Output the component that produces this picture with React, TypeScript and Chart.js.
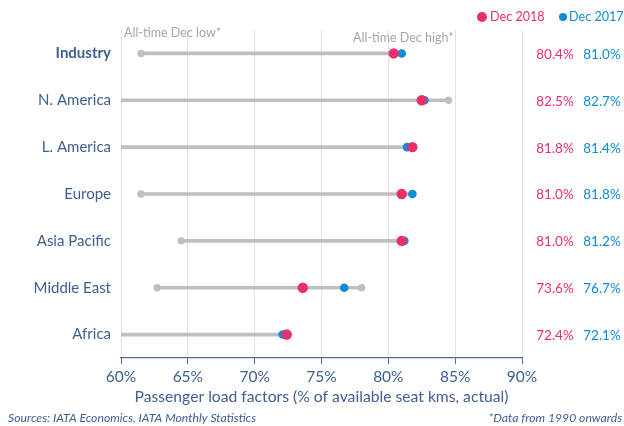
import React, { useEffect, useRef } from "react";
import { Chart, registerables } from "chart.js";

Chart.register(...registerables);

const regions = ["Industry", "N. America", "L. America", "Europe", "Asia Pacific", "Middle East", "Africa"];
const dec2018 = [80.4, 82.5, 81.8, 81.0, 81.0, 73.6, 72.4];
const dec2017 = [81.0, 82.7, 81.4, 81.8, 81.2, 76.7, 72.1];
const allTimeLow: (number | null)[] = [61.5, null, null, 61.5, 64.5, 62.7, null];
const allTimeHigh = [81.0, 84.5, 81.8, 81.8, 81.2, 78.0, 72.4];
const xTicks = [60, 65, 70, 75, 80, 85, 90];

const AXIS_MIN = 60;
const AXIS_MAX = 90;

const TEXT_BLUE = "#3f5e91";
const PINK = "#ea2e6e";
const BLUE = "#0f8cd5";
const GREY = "#bfbfbf";
const FONT = "Lato, 'Open Sans', sans-serif";

const overlayPlugin = {
  id: "overlay",
  afterDraw(chart: any) {
    const ctx = chart.ctx;
    const y = chart.scales.y;
    ctx.save();
    // value labels at right
    ctx.textBaseline = "middle";
    ctx.textAlign = "center";
    ctx.font = `13.5px ${FONT}`;
    regions.forEach((r, i) => {
      const py = y.getPixelForValue(i) + 1;
      ctx.fillStyle = PINK;
      ctx.fillText(dec2018[i].toFixed(1) + "%", 555, py);
      ctx.fillStyle = BLUE;
      ctx.fillText(dec2017[i].toFixed(1) + "%", 602, py);
    });
    // legend
    ctx.font = `12.6px ${FONT}`;
    ctx.textAlign = "left";
    ctx.fillStyle = PINK;
    ctx.beginPath();
    ctx.arc(482, 17, 5, 0, Math.PI * 2);
    ctx.fill();
    ctx.fillText("Dec 2018", 490, 17);
    ctx.fillStyle = BLUE;
    ctx.beginPath();
    ctx.arc(563, 17, 4, 0, Math.PI * 2);
    ctx.fill();
    ctx.fillText("Dec 2017", 569, 17);
    // annotations
    ctx.fillStyle = "#a6a6a6";
    ctx.font = `12.5px ${FONT}`;
    ctx.fillText("All-time Dec low*", 124, 33);
    ctx.fillText("All-time Dec high*", 353, 38);
    // footnotes
    ctx.fillStyle = TEXT_BLUE;
    ctx.font = `italic 12.2px ${FONT}`;
    ctx.fillText("Sources: IATA Economics, IATA Monthly Statistics", 8, 418);
    ctx.textAlign = "right";
    ctx.fillText("*Data from 1990 onwards", 622, 418);
    ctx.restore();
  },
};

export default function App() {
  const ref = useRef<HTMLCanvasElement | null>(null);
  useEffect(() => {
    if (!ref.current) return;
    const chart = new Chart(ref.current, {
      type: "bar",
      data: {
        labels: regions,
        datasets: [
          {
            type: "scatter",
            data: regions.map((r, i) => ({ x: dec2018[i], y: r })),
            backgroundColor: PINK,
            borderWidth: 0,
            pointRadius: 5.2,
          } as any,
          {
            type: "scatter",
            data: regions.map((r, i) => ({ x: dec2017[i], y: r })),
            backgroundColor: BLUE,
            borderWidth: 0,
            pointRadius: 4.3,
          } as any,
          {
            type: "scatter",
            data: regions.map((r, i) => ({ x: allTimeHigh[i], y: r })),
            backgroundColor: GREY,
            borderWidth: 0,
            pointRadius: 3.7,
          } as any,
          {
            type: "scatter",
            data: regions.map((r, i) => ({ x: allTimeLow[i], y: r })),
            backgroundColor: GREY,
            borderWidth: 0,
            pointRadius: 3.7,
          } as any,
          {
            type: "bar",
            data: regions.map((r, i) => [allTimeLow[i] ?? AXIS_MIN, allTimeHigh[i]]),
            backgroundColor: GREY,
            barThickness: 3,
            borderWidth: 0,
          } as any,
        ],
      },
      options: {
        indexAxis: "y",
        animation: false,
        responsive: false,
        maintainAspectRatio: false,
        layout: { padding: { top: 30, right: 102, bottom: 20, left: 0 } },
        plugins: { legend: { display: false }, tooltip: { enabled: false } },
        scales: {
          x: {
            type: "linear",
            min: AXIS_MIN,
            max: AXIS_MAX,
            afterBuildTicks: (s: any) => {
              s.ticks = xTicks.map((v) => ({ value: v }));
            },
            afterFit: (s: any) => {
              s.height = 48;
            },
            ticks: {
              color: TEXT_BLUE,
              font: { family: FONT, size: 15.5 },
              padding: 4,
              callback: (v: any) => v + "%",
            },
            grid: { color: "#e3e3e3", tickColor: "#4f6d9c", tickLength: 6 },
            border: { color: "#4f6d9c", width: 1.2 },
            title: {
              display: true,
              text: "Passenger load factors (% of available seat kms, actual)",
              color: TEXT_BLUE,
              font: { family: FONT, size: 15.7 },
              padding: { top: 0, bottom: 0 },
            },
          },
          y: {
            type: "category",
            offset: true,
            afterFit: (s: any) => {
              s.width = 121;
            },
            grid: { display: false, drawTicks: false },
            border: { display: false },
            ticks: {
              color: TEXT_BLUE,
              padding: 10,
              font: (c: any) => ({
                family: FONT,
                size: 15,
                weight: c.index === 0 ? "bold" : "normal",
              }),
            },
          },
        },
      },
      plugins: [overlayPlugin],
    } as any);
    return () => chart.destroy();
  }, []);
  return (
    <div style={{ position: "fixed", left: 0, top: 0, width: 624, height: 426, background: "#fff" }}>
      <canvas ref={ref} width={624} height={426} style={{ width: 624, height: 426 }} />
    </div>
  );
}
